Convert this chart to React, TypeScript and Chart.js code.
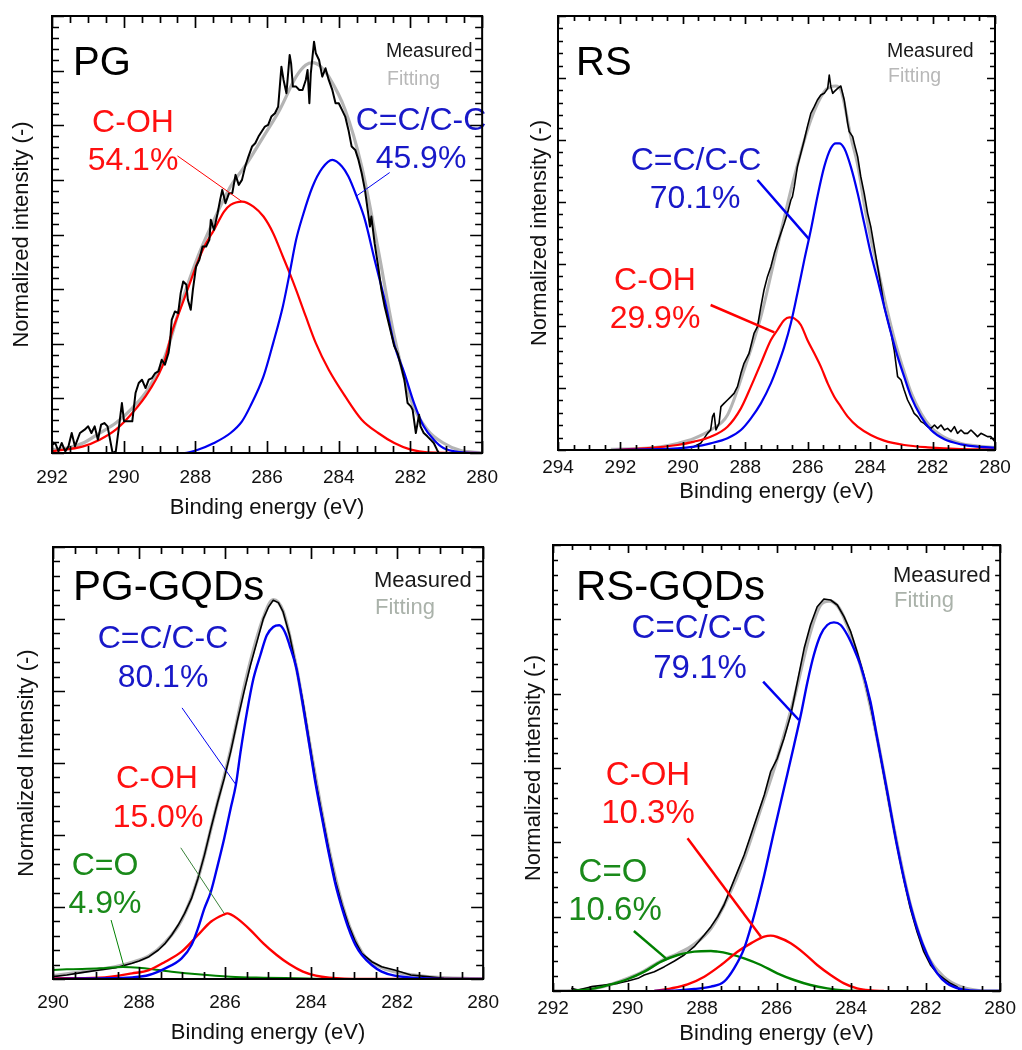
import React, { useEffect, useRef } from "react";
import { Chart, registerables } from "chart.js";
Chart.register(...registerables);

const FONT = '"Liberation Sans", Arial, Helvetica, sans-serif';
Chart.defaults.font.family = FONT;

type P = [number, number];

// ===== PG (binding energy eV, intensity a.u.) =====
const pgMeasured: P[] = [[292.00,25],[291.91,30],[291.82,5],[291.73,30],[291.63,5],[291.54,20],[291.45,60],[291.36,20],[291.22,60],[291.09,70],[290.99,80],[290.90,60],[290.81,80],[290.72,40],[290.63,85],[290.54,90],[290.45,80],[290.31,0],[290.22,5],[290.13,80],[290.05,150],[289.99,95],[289.85,95],[289.76,95],[289.67,180],[289.58,210],[289.49,220],[289.39,195],[289.30,220],[289.21,225],[289.12,240],[289.03,245],[288.94,280],[288.85,265],[288.75,300],[288.71,330],[288.66,400],[288.57,425],[288.48,420],[288.41,480],[288.34,515],[288.25,505],[288.21,460],[288.13,430],[288.07,490],[287.98,560],[287.89,580],[287.80,620],[287.70,620],[287.61,640],[287.57,700],[287.48,670],[287.38,720],[287.31,760],[287.25,790],[287.16,750],[287.06,780],[286.97,780],[286.88,835],[286.79,805],[286.70,820],[286.61,860],[286.52,890],[286.42,920],[286.33,930],[286.24,950],[286.15,965],[286.06,980],[285.97,985],[285.88,1010],[285.78,1020],[285.69,1040],[285.60,1160],[285.54,1120],[285.46,1080],[285.37,1195],[285.33,1170],[285.28,1100],[285.19,1100],[285.10,1090],[285.01,1090],[284.92,1120],[284.87,1150],[284.82,1050],[284.78,1140],[284.69,1235],[284.64,1200],[284.55,1180],[284.46,1130],[284.37,1155],[284.28,1120],[284.18,1090],[284.09,1050],[284.00,1050],[283.91,1030],[283.82,1010],[283.73,970],[283.64,920],[283.54,910],[283.45,880],[283.36,840],[283.27,790],[283.18,720],[283.13,680],[283.09,710],[283.00,630],[282.90,560],[282.81,490],[282.72,440],[282.63,400],[282.54,360],[282.45,320],[282.36,300],[282.26,260],[282.17,220],[282.08,150],[281.99,140],[281.94,130],[281.85,60],[281.76,115],[281.72,80],[281.63,60],[281.53,50],[281.44,40],[281.35,30],[281.26,10],[281.21,0]];
const pgFit: P[] = [[292.00,10],[291.59,15],[291.13,30],[290.67,60],[290.22,90],[289.76,135],[289.30,195],[288.85,290],[288.39,450],[287.93,590],[287.48,700],[287.02,800],[286.56,870],[286.10,950],[285.65,1030],[285.19,1130],[284.92,1165],[284.73,1172],[284.50,1160],[284.28,1130],[283.82,1030],[283.36,860],[282.90,610],[282.45,350],[281.99,160],[281.53,70],[281.08,30],[280.62,8],[280.00,0]];
const pgCOH: P[] = [[292.00,5],[291.13,20],[290.67,40],[290.22,70],[289.76,120],[289.30,185],[288.85,280],[288.66,360],[288.39,440],[288.12,520],[287.93,575],[287.75,620],[287.48,670],[287.20,725],[287.02,745],[286.70,755],[286.38,740],[286.10,710],[285.83,660],[285.56,590],[285.37,540],[285.19,490],[284.92,410],[284.64,330],[284.28,250],[283.82,170],[283.36,100],[282.90,60],[282.45,30],[281.99,10],[281.53,2],[280.00,0]];
const pgCC: P[] = [[292.00,0],[288.30,0],[287.93,10],[287.48,30],[287.02,60],[286.70,95],[286.47,140],[286.10,230],[285.83,330],[285.56,440],[285.37,540],[285.19,640],[285.01,710],[284.73,800],[284.46,855],[284.18,880],[283.91,860],[283.73,830],[283.50,770],[283.27,700],[283.00,580],[282.72,460],[282.45,325],[282.17,240],[281.90,150],[281.63,80],[281.35,40],[281.08,15],[280.62,3],[280.00,0]];

// ===== RS =====
const rsMeasured: P[] = [[289.75,5],[289.43,20],[289.21,50],[289.11,60],[289.05,100],[289.00,110],[288.94,60],[288.84,80],[288.78,130],[288.68,140],[288.57,150],[288.46,160],[288.36,170],[288.25,190],[288.14,230],[288.04,260],[287.88,290],[287.72,350],[287.61,370],[287.50,430],[287.40,480],[287.29,520],[287.18,550],[287.07,590],[286.97,620],[286.86,650],[286.75,680],[286.65,710],[286.54,750],[286.49,760],[286.43,790],[286.33,850],[286.22,890],[286.11,930],[286.01,970],[285.90,1010],[285.79,1030],[285.69,1050],[285.58,1065],[285.47,1070],[285.36,1085],[285.31,1125],[285.26,1090],[285.20,1070],[285.15,1075],[285.04,1085],[284.94,1092],[284.83,1050],[284.72,980],[284.67,955],[284.56,940],[284.51,920],[284.40,880],[284.30,820],[284.19,770],[284.08,710],[283.98,670],[283.87,610],[283.76,550],[283.65,490],[283.55,430],[283.44,390],[283.33,350],[283.23,300],[283.12,220],[283.01,210],[282.91,180],[282.80,150],[282.69,130],[282.59,110],[282.48,100],[282.37,85],[282.27,80],[282.16,70],[282.05,65],[281.94,75],[281.84,65],[281.73,75],[281.62,60],[281.52,65],[281.41,55],[281.30,70],[281.20,50],[281.09,60],[280.98,50],[280.88,50],[280.77,60],[280.66,50],[280.56,40],[280.45,50],[280.34,45],[280.24,40],[280.13,40],[280.00,25]];
const rsFit: P[] = [[292.31,2],[291.24,5],[290.71,10],[290.17,20],[289.64,35],[289.11,60],[288.57,105],[288.04,240],[287.50,400],[286.97,610],[286.43,820],[285.90,990],[285.47,1075],[285.26,1090],[285.10,1092],[284.94,1080],[284.83,1040],[284.62,940],[284.40,855],[284.19,738],[283.98,635],[283.76,547],[283.55,458],[283.33,372],[283.12,298],[282.91,235],[282.69,173],[282.37,110],[282.05,68],[281.62,38],[281.09,20],[280.56,12],[280.00,8]];
const rsCOH: P[] = [[292.31,0],[291.24,5],[290.17,15],[289.64,25],[289.11,40],[288.57,70],[288.14,125],[287.82,190],[287.50,260],[287.18,330],[286.97,360],[286.75,390],[286.59,398],[286.43,395],[286.22,375],[286.01,330],[285.79,290],[285.58,250],[285.36,200],[285.15,160],[284.94,130],[284.72,100],[284.40,70],[283.98,45],[283.55,28],[282.91,15],[282.16,8],[281.09,3],[280.00,2]];
const rsCC: P[] = [[292.31,0],[290.17,5],[289.64,10],[289.11,20],[288.57,35],[288.14,60],[287.82,95],[287.50,140],[287.18,200],[286.97,250],[286.75,310],[286.54,380],[286.33,470],[286.11,570],[285.90,660],[285.69,760],[285.47,850],[285.26,905],[285.10,920],[284.99,920],[284.83,905],[284.62,850],[284.40,770],[284.19,680],[283.98,590],[283.76,510],[283.55,430],[283.33,350],[283.12,280],[282.91,220],[282.69,160],[282.37,100],[282.05,60],[281.62,32],[281.09,17],[280.56,10],[280.00,7]];

// ===== PG-GQDs =====
const pgqMeasured: P[] = [[290.00,7],[289.68,12],[289.30,20],[288.92,27],[288.54,34],[288.31,42],[288.16,47],[288.00,54],[287.77,67],[287.55,87],[287.39,107],[287.24,132],[287.09,162],[286.94,197],[286.78,242],[286.63,302],[286.48,372],[286.33,452],[286.17,532],[286.02,602],[285.87,682],[285.72,772],[285.56,862],[285.41,942],[285.26,1012],[285.11,1082],[284.99,1117],[284.88,1137],[284.76,1130],[284.65,1102],[284.50,1032],[284.34,932],[284.19,832],[284.04,712],[283.89,592],[283.73,482],[283.58,382],[283.43,292],[283.28,222],[283.13,162],[282.97,112],[282.82,77],[282.59,52],[282.36,37],[282.06,27],[281.68,12],[281.30,7],[280.91,2],[280.00,0]];
const pgqFit: P[] = [[290.00,10],[289.30,22],[288.92,29],[288.54,37],[288.16,50],[287.77,69],[287.39,110],[287.01,177],[286.63,302],[286.25,492],[285.87,687],[285.49,912],[285.11,1084],[284.88,1139],[284.65,1104],[284.34,934],[283.96,652],[283.58,387],[283.20,192],[282.82,80],[282.44,40],[282.06,22],[281.30,7],[280.00,0]];
const pgqCC: P[] = [[290.00,0],[288.92,2],[288.16,5],[287.77,12],[287.39,32],[287.01,62],[286.78,102],[286.63,152],[286.48,212],[286.33,262],[286.17,342],[286.02,422],[285.87,512],[285.75,582],[285.64,682],[285.49,802],[285.34,902],[285.18,972],[285.03,1032],[284.88,1057],[284.74,1062],[284.61,1042],[284.50,1002],[284.34,932],[284.19,822],[284.04,702],[283.89,582],[283.73,472],[283.58,372],[283.43,282],[283.28,212],[283.13,152],[282.97,102],[282.82,72],[282.59,42],[282.36,22],[282.06,10],[281.30,2],[280.00,0]];
const pgqCOH: P[] = [[290.00,2],[288.92,4],[288.16,17],[287.77,27],[287.39,52],[287.01,82],[286.63,132],[286.33,172],[286.02,194],[285.95,197],[285.87,194],[285.72,182],[285.41,147],[285.11,107],[284.80,72],[284.50,44],[284.19,22],[283.89,10],[283.58,4],[282.82,0],[280.00,0]];
const pgqCO: P[] = [[290.00,27],[289.68,29],[288.92,32],[288.38,36],[288.00,34],[287.55,27],[287.24,22],[286.63,14],[285.87,7],[285.11,4],[284.34,2],[283.58,0],[280.00,0]];

// ===== RS-GQDs =====
const rsqMeasured: P[] = [[291.51,8],[291.33,3],[290.97,13],[290.62,18],[290.26,23],[289.99,30],[289.72,38],[289.55,48],[289.28,58],[289.01,73],[288.74,90],[288.48,108],[288.21,133],[287.94,168],[287.76,193],[287.58,223],[287.41,258],[287.23,308],[287.05,358],[286.87,408],[286.69,468],[286.51,528],[286.33,588],[286.16,658],[285.98,698],[285.80,758],[285.62,828],[285.44,928],[285.26,1028],[285.09,1098],[284.91,1153],[284.73,1176],[284.55,1173],[284.37,1158],[284.19,1123],[284.01,1078],[283.84,1018],[283.66,948],[283.48,858],[283.30,758],[283.12,648],[282.94,538],[282.77,438],[282.59,338],[282.41,248],[282.23,178],[282.05,118],[281.87,78],[281.69,53],[281.52,38],[281.34,23],[281.16,13],[281.07,0]];
const rsqFit: P[] = [[292.00,0],[291.33,2],[290.88,8],[290.44,20],[289.99,38],[289.55,60],[289.10,90],[288.65,112],[288.21,140],[287.76,188],[287.32,278],[286.87,398],[286.42,548],[285.98,698],[285.53,878],[285.09,1078],[284.82,1158],[284.59,1170],[284.37,1156],[284.19,1120],[283.75,978],[283.30,758],[282.85,488],[282.41,258],[281.96,108],[281.52,43],[281.07,13],[280.62,2],[280.45,0],[280.00,0]];
const rsqCC: P[] = [[289.28,0],[288.65,2],[288.21,6],[287.76,13],[287.41,28],[287.14,68],[286.87,128],[286.60,228],[286.33,348],[286.07,478],[285.80,608],[285.53,738],[285.35,828],[285.17,928],[285.00,1008],[284.82,1068],[284.64,1098],[284.46,1106],[284.28,1098],[284.10,1068],[283.93,1028],[283.75,978],[283.48,868],[283.30,758],[283.03,598],[282.77,438],[282.50,298],[282.23,188],[281.96,108],[281.69,53],[281.43,23],[281.07,6],[280.45,0],[280.00,0]];
const rsqCOH: P[] = [[289.28,0],[288.83,8],[288.39,20],[287.94,43],[287.49,78],[287.05,118],[286.69,143],[286.33,163],[286.16,166],[285.98,162],[285.62,143],[285.26,113],[284.91,78],[284.55,48],[284.19,23],[283.84,8],[283.48,2],[283.12,0]];
const rsqCO: P[] = [[291.51,0],[290.88,8],[290.44,20],[289.99,36],[289.55,58],[289.10,88],[288.65,108],[288.21,118],[287.76,120],[287.58,118],[287.32,113],[286.87,98],[286.42,78],[285.98,53],[285.53,33],[285.09,18],[284.64,8],[284.19,2],[283.75,0]];

// leader lines: [binding energy, intensity] endpoints
const pgLeadCOH: P[] = [[288.50,892],[286.70,755]];
const pgLeadCC: P[] = [[282.58,842],[283.50,772]];
const rsLeadCC: P[] = [[287.61,810],[285.95,632]];
const rsLeadCOH: P[] = [[289.11,435],[287.07,353]];
const pgqLeadCC: P[] = [[287.00,814],[285.74,582]];
const pgqLeadCOH: P[] = [[287.03,394],[286.02,197]];
const pgqLeadCO: P[] = [[288.65,177],[288.35,37]];
const rsqLeadCC: P[] = [[286.36,928],[285.40,813]];
const rsqLeadCOH: P[] = [[288.39,458],[286.42,163]];
const rsqLeadCO: P[] = [[289.83,180],[288.97,98]];

const W = 511;
const H = 525;

const BLACK = "#000000";
const GRAY = "#b4b4b4";
const RED = "#ff0000";
const BLUE = "#0000f0";
const GREEN = "#008000";
const TBLUE = "#1818c8";
const TRED = "#ff1010";
const TGREEN = "#1a8a1a";

interface Txt { t: string; c: string; x: number; y: number; s: number; a?: CanvasTextAlign }
interface Lead { p: P[]; c: string; w: number }
interface Ser { d: P[]; c: string; w: number; smooth: boolean }
interface Panel {
  ox: number; oy: number;
  xMin: number; xMax: number; yMax: number; yMajors: number;
  area: { l: number; t: number; r: number; b: number };
  xPad: number; xH: number; yTitle: string; yPad: number;
  tickMajor: number; tickMinor: number;
  texts: Txt[]; leads: Lead[]; series: Ser[];
}

const panels: Panel[] = [
  {
    ox: 0, oy: 0, xMin: 280, xMax: 292, yMax: 1312, yMajors: 8,
    area: { l: 52, t: 16, r: 489, b: 453 }, xPad: 13, xH: 68,
    yTitle: "Normalized intensity (-)", yPad: 9, tickMajor: 12, tickMinor: 7,
    texts: [
      { t: "PG", c: "#000", x: 73, y: 75, s: 40, a: "left" },
      { t: "Measured", c: "#1a1a1a", x: 386, y: 57, s: 19.5, a: "left" },
      { t: "Fitting", c: "#b8b8b8", x: 387, y: 85, s: 19.5, a: "left" },
      { t: "C-OH", c: TRED, x: 133, y: 132, s: 32 },
      { t: "54.1%", c: TRED, x: 133, y: 170, s: 32 },
      { t: "C=C/C-C", c: TBLUE, x: 421, y: 130, s: 32 },
      { t: "45.9%", c: TBLUE, x: 421, y: 168, s: 32 },
    ],
    leads: [
      { p: pgLeadCOH, c: RED, w: 1 },
      { p: pgLeadCC, c: BLUE, w: 1 },
    ],
    series: [
      { d: pgMeasured, c: BLACK, w: 2, smooth: false },
      { d: pgCC, c: BLUE, w: 2.2, smooth: true },
      { d: pgCOH, c: RED, w: 2.2, smooth: true },
      { d: pgFit, c: GRAY, w: 3.2, smooth: true },
    ],
  },
  {
    ox: 511, oy: 0, xMin: 280, xMax: 294, yMax: 1302, yMajors: 7,
    area: { l: 47, t: 16, r: 484, b: 450 }, xPad: 6, xH: 55,
    yTitle: "Normalized intensity (-)", yPad: 16, tickMajor: 8, tickMinor: 5,
    texts: [
      { t: "RS", c: "#000", x: 65, y: 75, s: 40, a: "left" },
      { t: "Measured", c: "#1a1a1a", x: 376, y: 57, s: 19.5, a: "left" },
      { t: "Fitting", c: "#b8b8b8", x: 377, y: 82, s: 19.5, a: "left" },
      { t: "C=C/C-C", c: TBLUE, x: 185, y: 170, s: 32 },
      { t: "70.1%", c: TBLUE, x: 184, y: 208, s: 32 },
      { t: "C-OH", c: TRED, x: 144, y: 290, s: 32 },
      { t: "29.9%", c: TRED, x: 144, y: 328, s: 32 },
    ],
    leads: [
      { p: rsLeadCC, c: BLUE, w: 2.5 },
      { p: rsLeadCOH, c: RED, w: 2.5 },
    ],
    series: [
      { d: rsCC, c: BLUE, w: 2.2, smooth: true },
      { d: rsCOH, c: RED, w: 2.2, smooth: true },
      { d: rsMeasured, c: BLACK, w: 1.6, smooth: false },
      { d: rsFit, c: GRAY, w: 3, smooth: true },
    ],
  },
  {
    ox: 0, oy: 525, xMin: 280, xMax: 290, yMax: 1297, yMajors: 6,
    area: { l: 53, t: 22, r: 490, b: 454 }, xPad: 12, xH: 67,
    yTitle: "Normalized Intensity (-)", yPad: 14, tickMajor: 12, tickMinor: 7,
    texts: [
      { t: "PG-GQDs", c: "#000", x: 73, y: 75, s: 42, a: "left" },
      { t: "Measured", c: "#1a1a1a", x: 374, y: 62, s: 22, a: "left" },
      { t: "Fitting", c: "#aab2aa", x: 375, y: 89, s: 22, a: "left" },
      { t: "C=C/C-C", c: TBLUE, x: 163, y: 123, s: 32 },
      { t: "80.1%", c: TBLUE, x: 163, y: 162, s: 32 },
      { t: "C-OH", c: TRED, x: 157, y: 263, s: 32 },
      { t: "15.0%", c: TRED, x: 158, y: 302, s: 32 },
      { t: "C=O", c: TGREEN, x: 105, y: 350, s: 32 },
      { t: "4.9%", c: TGREEN, x: 105, y: 388, s: 32 },
    ],
    leads: [
      { p: pgqLeadCC, c: BLUE, w: 1 },
      { p: pgqLeadCOH, c: "#3a823a", w: 1 },
      { p: pgqLeadCO, c: GREEN, w: 1 },
    ],
    series: [
      { d: pgqCC, c: BLUE, w: 2.4, smooth: true },
      { d: pgqCOH, c: RED, w: 2.4, smooth: true },
      { d: pgqCO, c: GREEN, w: 2, smooth: true },
      { d: pgqMeasured, c: BLACK, w: 1.6, smooth: false },
      { d: pgqFit, c: GRAY, w: 3.4, smooth: true },
    ],
  },
  {
    ox: 511, oy: 525, xMin: 280, xMax: 292, yMax: 1338, yMajors: 6,
    area: { l: 42, t: 20, r: 490, b: 466 }, xPad: 6, xH: 56,
    yTitle: "Normalized intensity (-)", yPad: 10, tickMajor: 8, tickMinor: 5,
    texts: [
      { t: "RS-GQDs", c: "#000", x: 65, y: 75, s: 42, a: "left" },
      { t: "Measured", c: "#1a1a1a", x: 382, y: 57, s: 22, a: "left" },
      { t: "Fitting", c: "#aab2aa", x: 383, y: 82, s: 22, a: "left" },
      { t: "C=C/C-C", c: TBLUE, x: 188, y: 113, s: 33 },
      { t: "79.1%", c: TBLUE, x: 189, y: 153, s: 33 },
      { t: "C-OH", c: TRED, x: 137, y: 260, s: 33 },
      { t: "10.3%", c: TRED, x: 137, y: 298, s: 33 },
      { t: "C=O", c: TGREEN, x: 102, y: 357, s: 33 },
      { t: "10.6%", c: TGREEN, x: 104, y: 395, s: 33 },
    ],
    leads: [
      { p: rsqLeadCC, c: BLUE, w: 2.5 },
      { p: rsqLeadCOH, c: RED, w: 2.5 },
      { p: rsqLeadCO, c: GREEN, w: 2.5 },
    ],
    series: [
      { d: rsqCC, c: BLUE, w: 2.4, smooth: true },
      { d: rsqCOH, c: RED, w: 2.4, smooth: true },
      { d: rsqCO, c: GREEN, w: 2.4, smooth: true },
      { d: rsqMeasured, c: BLACK, w: 1.6, smooth: false },
      { d: rsqFit, c: GRAY, w: 3.4, smooth: true },
    ],
  },
];

function makeDecor(p: Panel) {
  return {
    id: "decor",
    afterDatasetsDraw(chart: any) {
      const ctx: CanvasRenderingContext2D = chart.ctx;
      const a = chart.chartArea;
      const xs = chart.scales.x;
      const ys = chart.scales.y;
      ctx.save();
      // leader lines
      ctx.lineCap = "butt";
      for (const l of p.leads) {
        ctx.beginPath();
        ctx.strokeStyle = l.c;
        ctx.lineWidth = l.w;
        ctx.moveTo(xs.getPixelForValue(l.p[0][0]), ys.getPixelForValue(l.p[0][1]));
        ctx.lineTo(xs.getPixelForValue(l.p[1][0]), ys.getPixelForValue(l.p[1][1]));
        ctx.stroke();
      }
      // texts
      ctx.textBaseline = "alphabetic";
      for (const t of p.texts) {
        ctx.font = `${t.s}px ${FONT}`;
        ctx.fillStyle = t.c;
        ctx.textAlign = t.a || "center";
        ctx.fillText(t.t, t.x, t.y);
      }
      // inward ticks
      ctx.strokeStyle = "#000";
      ctx.lineWidth = 1.7;
      ctx.beginPath();
      const nx = Math.round((p.xMax - p.xMin) * 2);
      for (let i = 0; i <= nx; i++) {
        const v = p.xMin + i * 0.5;
        const px = Math.round(xs.getPixelForValue(v)) + 0.5;
        const len = i % 4 === 0 ? p.tickMajor : p.tickMinor;
        ctx.moveTo(px, a.bottom);
        ctx.lineTo(px, a.bottom - len);
        ctx.moveTo(px, a.top);
        ctx.lineTo(px, a.top + len);
      }
      const ny = p.yMajors * 5;
      for (let j = 0; j <= ny; j++) {
        const v = (p.yMax / ny) * j;
        const py = Math.round(ys.getPixelForValue(v)) + 0.5;
        const len = j % 5 === 0 ? p.tickMajor : p.tickMinor;
        ctx.moveTo(a.left, py);
        ctx.lineTo(a.left + len, py);
        ctx.moveTo(a.right, py);
        ctx.lineTo(a.right - len, py);
      }
      ctx.stroke();
      // frame
      ctx.lineWidth = 2;
      ctx.strokeRect(a.left, a.top, a.right - a.left, a.bottom - a.top);
      ctx.restore();
    },
  };
}

function PanelChart({ p }: { p: Panel }) {
  const ref = useRef<HTMLCanvasElement | null>(null);
  useEffect(() => {
    if (!ref.current) return;
    const chart = new Chart(ref.current, {
      type: "line",
      data: {
        datasets: p.series.map((s) => ({
          data: s.d.map(([x, y]) => ({ x, y })),
          borderColor: s.c,
          borderWidth: s.w,
          pointRadius: 0,
          fill: false,
          tension: 0,
          cubicInterpolationMode: s.smooth ? "monotone" : "default",
          borderJoinStyle: "round",
        })),
      } as any,
      options: {
        animation: false,
        responsive: false,
        devicePixelRatio: 1,
        events: [],
        layout: {
          padding: {
            left: 0,
            top: p.area.t,
            right: W - p.area.r,
            bottom: H - p.area.b - p.xH,
          },
        },
        plugins: { legend: { display: false }, tooltip: { enabled: false } },
        scales: {
          x: {
            type: "linear",
            reverse: true,
            min: p.xMin,
            max: p.xMax,
            ticks: {
              stepSize: 2,
              padding: p.xPad,
              font: { size: 19 },
              color: "#111",
              maxRotation: 0,
              autoSkip: false,
            },
            grid: { display: false, drawTicks: false },
            border: { display: false },
            title: {
              display: true,
              text: "Binding energy (eV)",
              font: { size: 22 },
              color: "#111",
              padding: 0,
            },
            afterFit: (s: any) => {
              s.height = p.xH;
            },
          },
          y: {
            type: "linear",
            min: 0,
            max: p.yMax,
            ticks: { display: false },
            grid: { display: false, drawTicks: false },
            border: { display: false },
            title: {
              display: true,
              text: p.yTitle,
              font: { size: 22 },
              color: "#111",
              padding: { top: p.yPad, bottom: 0 },
            },
            afterFit: (s: any) => {
              s.width = p.area.l;
            },
          },
        },
      } as any,
      plugins: [makeDecor(p)],
    });
    return () => chart.destroy();
  }, [p]);
  return (
    <canvas
      ref={ref}
      width={W}
      height={H}
      style={{ position: "absolute", left: p.ox, top: p.oy, width: W, height: H }}
    />
  );
}

export default function App() {
  return (
    <div
      style={{
        position: "absolute",
        left: 0,
        top: 0,
        width: 1022,
        height: 1050,
        background: "#ffffff",
        overflow: "hidden",
      }}
    >
      {panels.map((p, i) => (
        <PanelChart key={i} p={p} />
      ))}
    </div>
  );
}
